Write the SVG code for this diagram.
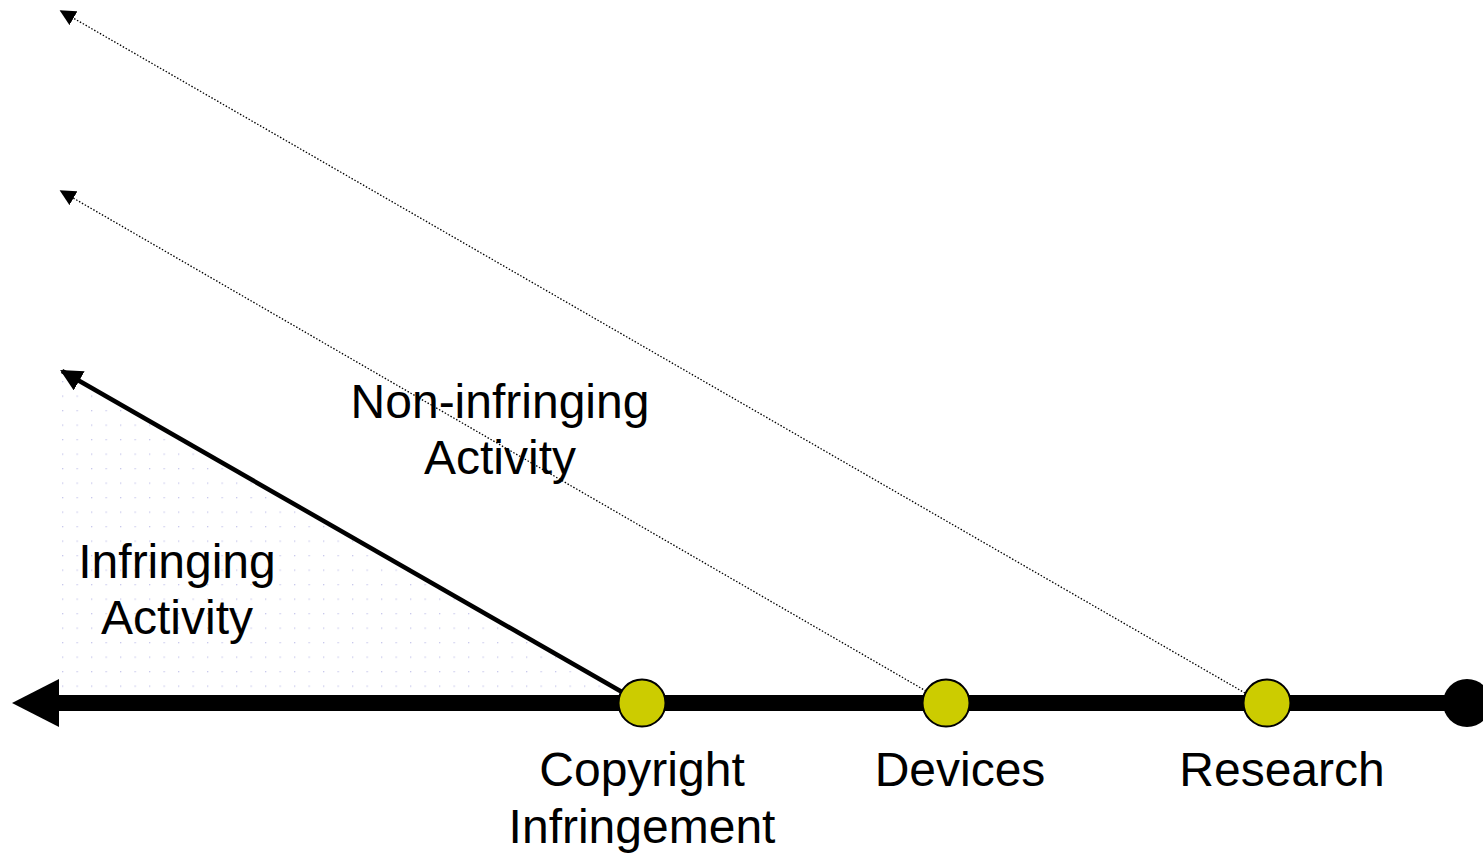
<svg xmlns="http://www.w3.org/2000/svg" width="1483" height="853" viewBox="0 0 1483 853">
<style>
text{font-family:"Liberation Sans",Arial,sans-serif;font-size:48px;fill:#000;text-anchor:middle}
.node{fill:#CCCC00;stroke:#000;stroke-width:2}
.dot{fill:none;stroke:#000;stroke-width:1.3;stroke-dasharray:1.5 1.8}
</style>
<defs>
<pattern id="dots" x="4" y="4" width="14.5" height="14.5" patternUnits="userSpaceOnUse">
<rect x="0" y="0" width="1.3" height="1.3" fill="#c8c8ec"/>
</pattern>
<marker id="sm" viewBox="0 0 10 10" refX="9" refY="5" markerWidth="16" markerHeight="16" markerUnits="userSpaceOnUse" orient="auto">
<path d="M0,0 L10,5 L0,10 z" fill="#000"/>
</marker>
<marker id="big" viewBox="0 0 10 10" refX="9" refY="5" markerWidth="22" markerHeight="22" markerUnits="userSpaceOnUse" orient="auto">
<path d="M0,0 L10,5 L0,10 z" fill="#000"/>
</marker>
</defs>
<polygon points="60,372 618,692 60,692" fill="url(#dots)"/>
<g id="connectors">
<line class="dot" x1="1245" y1="693" x2="61" y2="11" marker-end="url(#sm)"/>
<line class="dot" x1="926" y1="691" x2="61" y2="191" marker-end="url(#sm)"/>
<line x1="622" y1="692" x2="62" y2="371" stroke="#000" stroke-width="4.5" marker-end="url(#big)"/>
</g>
<g id="axis">
<rect x="56" y="695" width="1411" height="16" fill="#000"/>
<polygon points="12,703 59,679 59,727" fill="#000"/>
<circle cx="1467" cy="703" r="24" fill="#000"/>
</g>
<g id="node-copyright">
<circle class="node" cx="642" cy="703" r="23.5"/>
<text x="642" y="786">Copyright</text>
<text x="642" y="843">Infringement</text>
</g>
<g id="node-devices">
<circle class="node" cx="946" cy="703" r="23.5"/>
<text x="960" y="786">Devices</text>
</g>
<g id="node-research">
<circle class="node" cx="1267" cy="703" r="23.5"/>
<text x="1282" y="786">Research</text>
</g>
<g id="label-noninfringing">
<text x="500" y="418">Non-infringing</text>
<text x="500" y="474">Activity</text>
</g>
<g id="label-infringing">
<text x="177" y="578">Infringing</text>
<text x="177" y="634">Activity</text>
</g>
</svg>
